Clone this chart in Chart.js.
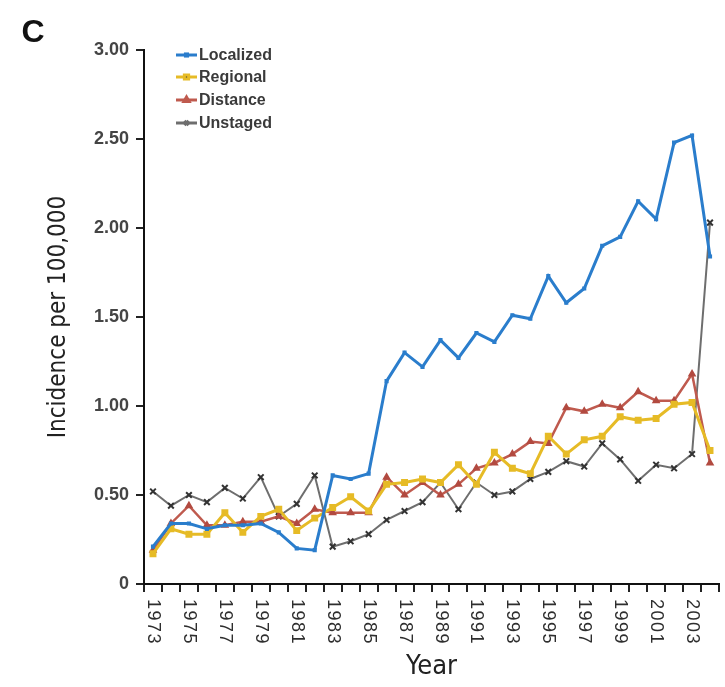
<!DOCTYPE html>
<html>
<head>
<meta charset="utf-8">
<script src="https://cdn.jsdelivr.net/npm/chart.js@4/dist/chart.umd.min.js"></script>
<style>
  html, body { margin: 0; padding: 0; background: #fff; }
  #wrap { width: 725px; height: 687px; }
</style>
</head>
<body>
<div id="wrap"><canvas id="stageChart" width="725" height="687"></canvas></div>
<script>
// incidence per 100,000 by stage, 1973-2004
const years = [];
for (let y = 1973; y <= 2004; y++) years.push(y);

const localized = [0.21, 0.34, 0.34, 0.31, 0.33, 0.33, 0.34, 0.29, 0.20, 0.19, 0.61, 0.59, 0.62, 1.14, 1.30, 1.22,
                   1.37, 1.27, 1.41, 1.36, 1.51, 1.49, 1.73, 1.58, 1.66, 1.90, 1.95, 2.15, 2.05, 2.48, 2.52, 1.84];
const regional  = [0.17, 0.31, 0.28, 0.28, 0.40, 0.29, 0.38, 0.42, 0.30, 0.37, 0.43, 0.49, 0.41, 0.56, 0.57, 0.59,
                   0.57, 0.67, 0.56, 0.74, 0.65, 0.62, 0.83, 0.73, 0.81, 0.83, 0.94, 0.92, 0.93, 1.01, 1.02, 0.75];
const distance  = [0.19, 0.34, 0.44, 0.33, 0.33, 0.35, 0.35, 0.38, 0.34, 0.42, 0.40, 0.40, 0.40, 0.60, 0.50, 0.57,
                   0.50, 0.56, 0.65, 0.68, 0.73, 0.80, 0.79, 0.99, 0.97, 1.01, 0.99, 1.08, 1.03, 1.03, 1.18, 0.68];
const unstaged  = [0.52, 0.44, 0.50, 0.46, 0.54, 0.48, 0.60, 0.38, 0.45, 0.61, 0.21, 0.24, 0.28, 0.36, 0.41, 0.46,
                   0.57, 0.42, 0.57, 0.50, 0.52, 0.59, 0.63, 0.69, 0.66, 0.79, 0.70, 0.58, 0.67, 0.65, 0.73, 2.03];

const yTicks = [0, 0.5, 1.0, 1.5, 2.0, 2.5, 3.0];

const SANS = '"Liberation Sans", Arial, Helvetica, sans-serif';
const NARROW = '"Liberation Sans Narrow", "DejaVu Sans Condensed", "Liberation Sans", sans-serif';

// year labels (turned clockwise), legend and panel letter
const overlay = {
  id: 'overlay',
  afterDraw(chart) {
    const ctx = chart.ctx;
    const x = chart.scales.x;
    ctx.save();

    ctx.font = '18px ' + SANS;
    ctx.fillStyle = '#2e2e2e';
    if ('letterSpacing' in ctx) ctx.letterSpacing = '1.5px';
    years.forEach((yr, i) => {
      if (i % 2) return;
      ctx.save();
      ctx.translate(x.getPixelForValue(i), x.top + 15);
      ctx.rotate(Math.PI / 2);
      ctx.textAlign = 'left';
      ctx.textBaseline = 'middle';
      ctx.fillText(String(yr), 0, 0);
      ctx.restore();
    });
    if ('letterSpacing' in ctx) ctx.letterSpacing = '0px';

    // legend
    const rowY = [55, 77, 100, 123];
    chart.data.datasets.forEach((ds, i) => {
      const y = rowY[i];
      ctx.strokeStyle = ds.borderColor;
      ctx.lineWidth = 3;
      ctx.beginPath();
      ctx.moveTo(176, y);
      ctx.lineTo(197, y);
      ctx.stroke();
      Chart.helpers.drawPoint(ctx, {
        pointStyle: ds.pointStyle,
        radius: Math.min(ds.pointRadius, 3),
        borderWidth: ds.pointBorderWidth,
        rotation: 0
      }, 186.5, y);
      ctx.fillStyle = '#3a3a3a';
      ctx.font = 'bold 16px ' + SANS;
      ctx.textAlign = 'left';
      ctx.textBaseline = 'middle';
      ctx.fillText(ds.label, 199, y + 1);
    });

    ctx.font = 'bold 32px ' + SANS;
    ctx.fillStyle = '#111';
    ctx.textAlign = 'center';
    ctx.textBaseline = 'middle';
    ctx.fillText('C', 33, 33);
    ctx.restore();
  }
};

function line(label, data, color, markColor, style, radius, width) {
  return {
    label: label,
    data: data,
    borderColor: color,
    backgroundColor: markColor,
    pointBackgroundColor: markColor,
    pointBorderColor: markColor,
    pointStyle: style,
    pointRadius: radius,
    pointBorderWidth: 2,
    borderWidth: width,
    tension: 0
  };
}

new Chart(document.getElementById('stageChart').getContext('2d'), {
  type: 'line',
  data: {
    labels: years,
    datasets: [
      line('Localized', localized, '#2a7dcc', '#2a7dcc', 'rect', 1.5, 3),
      line('Regional', regional, '#e6bb26', '#e6bb26', 'rect', 3.5, 3),
      line('Distance', distance, '#bf5a4e', '#b24a40', 'triangle', 3, 2.5),
      line('Unstaged', unstaged, '#6e6e6e', '#333333', 'crossRot', 4, 2)
    ]
  },
  options: {
    responsive: false,
    animation: false,
    layout: { padding: { top: 50, right: 5, bottom: 0, left: 0 } },
    plugins: {
      legend: { display: false },
      tooltip: { enabled: false }
    },
    scales: {
      x: {
        type: 'category',
        offset: true,
        afterFit(scale) { scale.height = 103; },
        grid: {
          offset: true,
          drawOnChartArea: false,
          drawTicks: true,
          tickLength: 8,
          color: '#222',
          lineWidth: 2
        },
        border: { display: true, color: '#111', width: 2 },
        ticks: { display: false },
        title: {
          display: true,
          text: 'Year',
          font: { family: NARROW, size: 27 },
          color: '#222',
          align: 'center',
          padding: { top: 0, bottom: 4 }
        }
      },
      y: {
        min: 0,
        max: 3,
        afterFit(scale) { scale.width = 144; },
        afterBuildTicks(scale) { scale.ticks = yTicks.map(v => ({ value: v })); },
        grid: {
          drawOnChartArea: false,
          drawTicks: true,
          tickLength: 8,
          color: '#222',
          lineWidth: 2
        },
        border: { display: true, color: '#111', width: 2 },
        ticks: {
          padding: 7,
          color: '#444',
          font: { family: SANS, size: 18, weight: 'bold' },
          callback: v => v === 0 ? '0' : v.toFixed(2)
        },
        title: {
          display: true,
          text: 'Incidence per 100,000',
          font: { family: NARROW, size: 24 },
          color: '#222',
          padding: { top: 44, bottom: 0 }
        }
      }
    }
  },
  plugins: [overlay]
});
</script>
</body>
</html>
